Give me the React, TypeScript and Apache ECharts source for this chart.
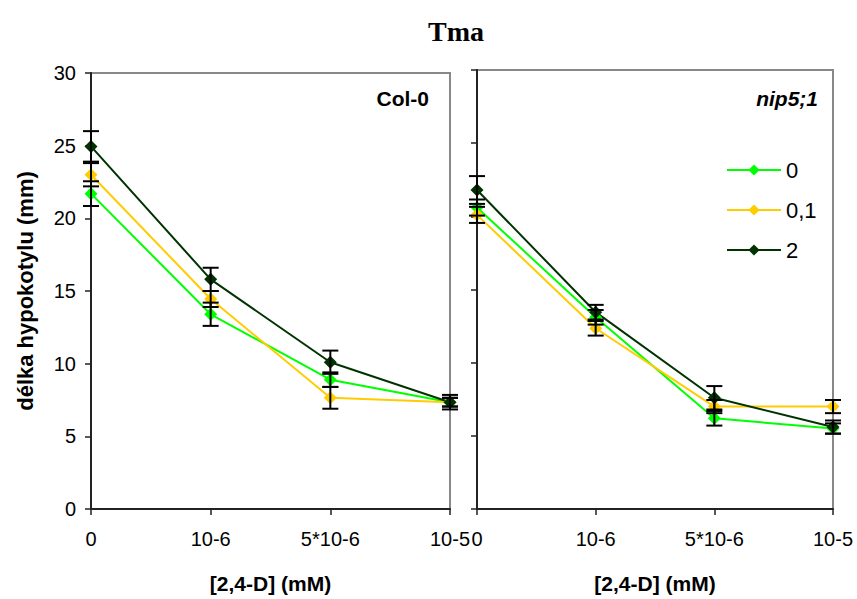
import React, { useEffect, useRef } from "react";
import * as echarts from "echarts";

// [2,4-D] concentrations
const categories = ["0", "10-6", "5*10-6", "10-5"];
const seriesNames = ["0", "0,1", "2"];
const seriesColors = ["#00ff00", "#ffcc00", "#003300"];

// Col-0 hypocotyl length (mm) and standard errors
const col0Mean0 = [21.7, 13.4, 8.9, 7.35];
const col0Err0 = [0.85, 0.8, 0.5, 0.3];
const col0Mean01 = [23.0, 14.45, 7.65, 7.35];
const col0Err01 = [0.8, 0.55, 0.75, 0.3];
const col0Mean2 = [24.95, 15.8, 10.1, 7.35];
const col0Err2 = [1.05, 0.8, 0.8, 0.5];

// nip5;1 hypocotyl length (mm) and standard errors
const nipMean0 = [20.6, 13.1, 6.2, 5.5];
const nipErr0 = [0.55, 0.5, 0.5, 0.35];
const nipMean01 = [20.1, 12.35, 7.0, 7.0];
const nipErr01 = [0.55, 0.5, 0.45, 0.45];
const nipMean2 = [21.8, 13.45, 7.6, 5.6];
const nipErr2 = [0.95, 0.5, 0.8, 0.45];

const yTicks = [0, 5, 10, 15, 20, 25, 30];

const FONT = "Arial";

function lineSeries(name: string, color: string, data: number[], axisIndex: number) {
  return {
    type: "line",
    name,
    xAxisIndex: axisIndex,
    yAxisIndex: axisIndex,
    data,
    symbol: "diamond",
    symbolSize: 13,
    lineStyle: { color, width: 2 },
    itemStyle: { color },
    z: 3,
  };
}

function errorSeries(means: number[], errs: number[], axisIndex: number) {
  return {
    type: "custom",
    xAxisIndex: axisIndex,
    yAxisIndex: axisIndex,
    silent: true,
    z: 4,
    data: means.map((m, i) => [i, m - errs[i], m + errs[i]]),
    renderItem: (_params: any, api: any) => {
      const lo = api.coord([api.value(0), api.value(1)]);
      const hi = api.coord([api.value(0), api.value(2)]);
      const cap = 8;
      const style = { stroke: "#000", lineWidth: 2 };
      return {
        type: "group",
        children: [
          { type: "line", shape: { x1: lo[0], y1: lo[1], x2: hi[0], y2: hi[1] }, style },
          { type: "line", shape: { x1: lo[0] - cap, y1: lo[1], x2: lo[0] + cap, y2: lo[1] }, style },
          { type: "line", shape: { x1: hi[0] - cap, y1: hi[1], x2: hi[0] + cap, y2: hi[1] }, style },
        ],
      };
    },
  };
}

function xAxis(gridIndex: number) {
  return {
    type: "category",
    gridIndex,
    data: categories,
    boundaryGap: false,
    name: "[2,4-D] (mM)",
    nameLocation: "middle",
    nameGap: 64,
    nameTextStyle: { fontFamily: FONT, fontWeight: "bold", fontSize: 21, color: "#000" },
    axisLine: { lineStyle: { color: "#222", width: 2 } },
    axisTick: { show: true, alignWithLabel: true, length: 6, lineStyle: { color: "#222", width: 1.5 } },
    axisLabel: { fontFamily: FONT, fontSize: 20, color: "#000", margin: 20, interval: 0 },
    splitLine: { show: false },
  };
}

function yAxis(gridIndex: number, showLabels: boolean) {
  return {
    type: "value",
    gridIndex,
    min: yTicks[0],
    max: yTicks[yTicks.length - 1],
    interval: 5,
    name: showLabels ? "délka hypokotylu (mm)" : "",
    nameLocation: "middle",
    nameGap: 55,
    nameTextStyle: { fontFamily: FONT, fontWeight: "bold", fontSize: 22, color: "#000" },
    axisLine: { show: true, lineStyle: { color: "#222", width: 2 } },
    axisTick: { show: true, length: 6, lineStyle: { color: "#222", width: 1.5 } },
    axisLabel: { show: showLabels, fontFamily: FONT, fontSize: 20, color: "#000", margin: 15 },
    splitLine: { show: false },
  };
}

export default function App() {
  const ref = useRef<HTMLDivElement>(null);

  useEffect(() => {
    if (!ref.current) return;
    const chart = echarts.init(ref.current, undefined, { renderer: "svg" });
    chart.setOption({
      animation: false,
      backgroundColor: "#fff",
      title: {
        text: "Tma",
        left: 451,
        textAlign: "center",
        top: 12,
        textStyle: { fontFamily: "Times New Roman", fontWeight: "bold", fontSize: 28, color: "#000" },
      },
      grid: [
        { left: 91, top: 73, width: 359, height: 439, show: true, borderColor: "#888", borderWidth: 2, backgroundColor: "transparent" },
        { left: 477, top: 70, width: 356, height: 440, show: true, borderColor: "#888", borderWidth: 2, backgroundColor: "transparent" },
      ],
      xAxis: [xAxis(0), xAxis(1)],
      yAxis: [yAxis(0, true), yAxis(1, false)],
      legend: {
        data: seriesNames,
        orient: "vertical",
        left: 721,
        top: 154,
        itemWidth: 54,
        itemHeight: 14,
        itemGap: 18,
        textStyle: { fontFamily: FONT, fontSize: 22, lineHeight: 22, color: "#000" },
      },
      graphic: [
        {
          type: "text",
          right: 857 - 429,
          top: 88,
          style: { text: "Col-0", fontFamily: FONT, fontWeight: "bold", fontSize: 21, fill: "#000" },
        },
        {
          type: "text",
          right: 857 - 818,
          top: 88,
          style: { text: "nip5;1", fontFamily: FONT, fontWeight: "bold", fontStyle: "italic", fontSize: 21, fill: "#000" },
        },
      ],
      series: [
        lineSeries(seriesNames[0], seriesColors[0], col0Mean0, 0),
        lineSeries(seriesNames[1], seriesColors[1], col0Mean01, 0),
        lineSeries(seriesNames[2], seriesColors[2], col0Mean2, 0),
        errorSeries(col0Mean0, col0Err0, 0),
        errorSeries(col0Mean01, col0Err01, 0),
        errorSeries(col0Mean2, col0Err2, 0),
        lineSeries(seriesNames[0], seriesColors[0], nipMean0, 1),
        lineSeries(seriesNames[1], seriesColors[1], nipMean01, 1),
        lineSeries(seriesNames[2], seriesColors[2], nipMean2, 1),
        errorSeries(nipMean0, nipErr0, 1),
        errorSeries(nipMean01, nipErr01, 1),
        errorSeries(nipMean2, nipErr2, 1),
      ],
    });
    return () => chart.dispose();
  }, []);

  return <div ref={ref} style={{ width: 857, height: 599, position: "absolute", left: 0, top: 0 }} />;
}
